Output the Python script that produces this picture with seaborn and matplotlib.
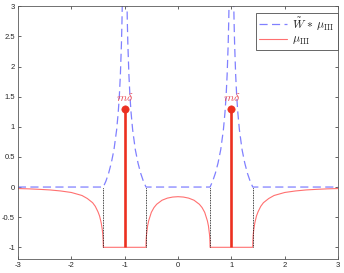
import matplotlib
matplotlib.use("Agg")
import matplotlib.pyplot as plt
import numpy as np
import pandas as pd
import seaborn as sns

sns.set_style("ticks")
plt.rcParams["font.family"] = ["Liberation Sans", "DejaVu Sans"]
plt.rcParams["mathtext.fontset"] = "cm"

# mu_III: outer branch (x >= 1.4) and inner branch (0 <= x <= 0.6)
outer_x = [1.4, 1.401, 1.405, 1.41, 1.42, 1.44, 1.47, 1.5, 1.55, 1.6, 1.7, 1.8, 2.0, 2.2, 2.4, 2.6, 2.8, 3.0]
outer_y = [-1.0, -0.93, -0.85, -0.78, -0.70, -0.59, -0.48, -0.41, -0.32, -0.26, -0.19, -0.14, -0.09, -0.065, -0.048, -0.038, -0.030, -0.025]
inner_x = [0.0, 0.1, 0.2, 0.3, 0.4, 0.45, 0.5, 0.55, 0.57, 0.59, 0.595, 0.599, 0.6]
inner_y = [-0.16, -0.166, -0.184, -0.219, -0.286, -0.34, -0.42, -0.56, -0.645, -0.79, -0.85, -0.93, -1.0]

# W~ * mu_III bump, by distance from the atom at +-1
bump_d = [0.4, 0.35, 0.3, 0.25, 0.2, 0.15, 0.12, 0.1, 0.08, 0.06, 0.05, 0.04, 0.02]
bump_y = [0.0, 0.10, 0.23, 0.40, 0.62, 0.95, 1.24, 1.50, 1.86, 2.38, 2.75, 3.25, 5.2]

atoms_x = [-1, 1]
atoms_m = [1.3, 1.3]
edges = [-1.4, -0.6, 0.6, 1.4]

# assemble the symmetric curves
ox, oy = np.array(outer_x), np.array(outer_y)
ix, iy = np.array(inner_x), np.array(inner_y)
red_x = np.concatenate([-ox[::-1], -ix[::-1], ix[1:], ox])
red_y = np.concatenate([oy[::-1], iy[::-1], iy[1:], oy])
red = pd.DataFrame({"x": red_x, "y": red_y})

bd, by = np.array(bump_d), np.array(bump_y)
bx = [-3.0]
byy = [0.0]
for c in atoms_x:
    bx += list(c - bd) + list(c + bd[::-1])
    byy += list(by) + list(by[::-1])
bx += [3.0]
byy += [0.0]
blue = pd.DataFrame({"x": bx, "y": byy})

fig = plt.figure(figsize=(3.44, 2.73), dpi=100)
ax = fig.add_axes([0.052, 0.050, 0.931, 0.927])

blue_c = "#8080ff"
red_c = "#ff7070"
atom_c = "#ec3020"

sns.lineplot(data=blue, x="x", y="y", sort=False, estimator=None, ax=ax,
             color=blue_c, lw=0.9, linestyle=(0, (6.5, 3.5)),
             label=r"$\tilde{W}\,\ast\,\mu_{\mathrm{III}}$")
sns.lineplot(data=red, x="x", y="y", sort=False, estimator=None, ax=ax,
             color=red_c, lw=0.8, label=r"$\mu_{\mathrm{III}}$")

ax.vlines(edges, -1, 0, colors="black", linestyles=(0, (1, 1)), lw=0.6)
ax.vlines(atoms_x, -1, atoms_m, colors=atom_c, lw=1.9)
sns.scatterplot(x=atoms_x, y=atoms_m, ax=ax, color=atom_c, s=28,
                edgecolor=atom_c, zorder=5, legend=False)
for xa, m in zip(atoms_x, atoms_m):
    ax.text(xa, m + 0.08, r"$m\delta$", color="#e84a55", fontsize=8.5,
            ha="center", va="bottom")

ax.set_xlim(-3, 3)
ax.set_ylim(-1.2, 3)
ax.set_xticks(range(-3, 4))
ax.set_yticks([-1, -0.5, 0, 0.5, 1, 1.5, 2, 2.5, 3])
ax.set_yticklabels(["-1", "-0.5", "0", "0.5", "1", "1.5", "2", "2.5", "3"])
ax.set_xticklabels([str(v) for v in range(-3, 4)])
ax.set_xlabel("")
ax.set_ylabel("")
ax.tick_params(direction="in", length=2.5, width=0.5, labelsize=5.5,
               colors="0.15", top=True, right=True, pad=2)
for s in ax.spines.values():
    s.set_color("0.35")
    s.set_linewidth(0.6)

leg = ax.legend(loc="upper right", bbox_to_anchor=(0.998, 0.975),
                borderaxespad=0, fontsize=8.5, fancybox=False, framealpha=1,
                handlelength=2.4, handletextpad=0.4, borderpad=0.25,
                labelspacing=0.1)
leg.get_frame().set_edgecolor("0.3")
leg.get_frame().set_linewidth(0.6)

fig.savefig("out.png", dpi=100)
